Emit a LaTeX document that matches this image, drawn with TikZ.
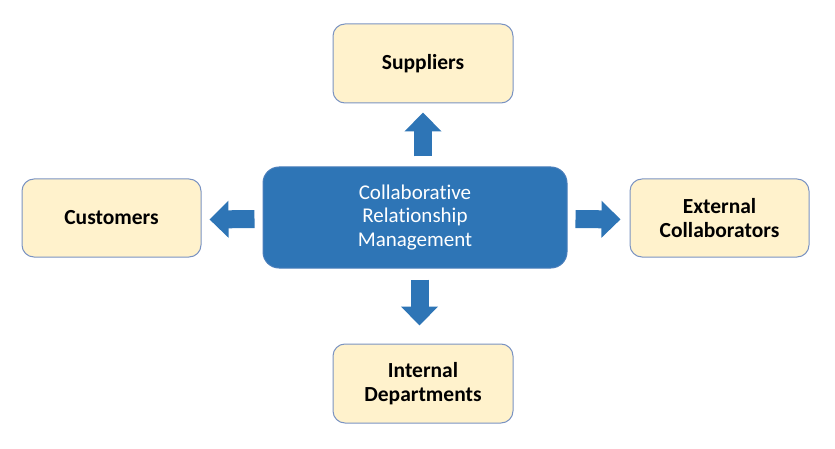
\documentclass[tikz,border=0pt]{standalone}
\usepackage{fontspec}
\setmainfont{Carlito}[Ligatures=NoCommon]
\usepackage{tikz}
\usetikzlibrary{
	arrows.meta,
	calc,
	positioning,
}
\definecolor{crmblue}{HTML}{2E75B6}
\definecolor{crmedge}{HTML}{4A7EBB}
\definecolor{partyfill}{HTML}{FFF2CC}
\definecolor{partyedge}{HTML}{7A93C2}
\tikzset{party/.style={
	draw=partyedge,
	fill=partyfill,
	rounded corners=12pt,
	line width=1pt,
	align=center,
	font=\fontsize{21.5}{23.5}\selectfont\bfseries,
	text=black,
}}
\tikzset{crm box/.style={
	draw=crmedge,
	fill=crmblue,
	rounded corners=16pt,
	line width=1pt,
	align=center,
	minimum width=304pt,
	minimum height=101pt,
	font=\fontsize{21}{23.5}\selectfont,
	text=white,
}}
\tikzset{block arrow/.style={
	draw=crmblue,
	line width=18pt,
	-{Triangle[length=19pt, width=36pt]},
}}

\begin{document}
\begin{tikzpicture}[x=1pt,y=-1pt]
\useasboundingbox (0,0) rectangle (835,449);

\node[crm box](crm) at (415,217.5) {Collaborative\\Relationship\\Management};

\node[party, minimum width=180pt, minimum height=79pt](sup) at (423,63.5) {Suppliers};
\node[party, minimum width=179pt, minimum height=78pt](cus) at (111.5,218) {Customers};
\node[party, minimum width=179pt, minimum height=78pt](ext) at (719.5,218) {External\\Collaborators};
\node[party, minimum width=180pt, minimum height=79pt](int) at (423,383.5) {Internal\\Departments};

% crm -> suppliers
\draw[block arrow, shorten <=10pt, shorten >=9pt] (crm.north -| sup.south) -- (sup.south);

% crm -> customers
\draw[block arrow, shorten <=8pt, shorten >=8pt] ([yshift=-1.5pt]crm.west) -- ([yshift=-1.5pt]cus.east);

% crm -> external
\draw[block arrow, shorten <=8pt, shorten >=9pt] ([yshift=-1.5pt]crm.east) -- ([yshift=-1.5pt]ext.west);

% crm -> internal
\draw[block arrow, shorten <=11pt, shorten >=18pt] ($(crm.south -| int.north)+(-3.5,0)$) -- ($(int.north)+(-3.5,0)$);

\end{tikzpicture}
\end{document}
